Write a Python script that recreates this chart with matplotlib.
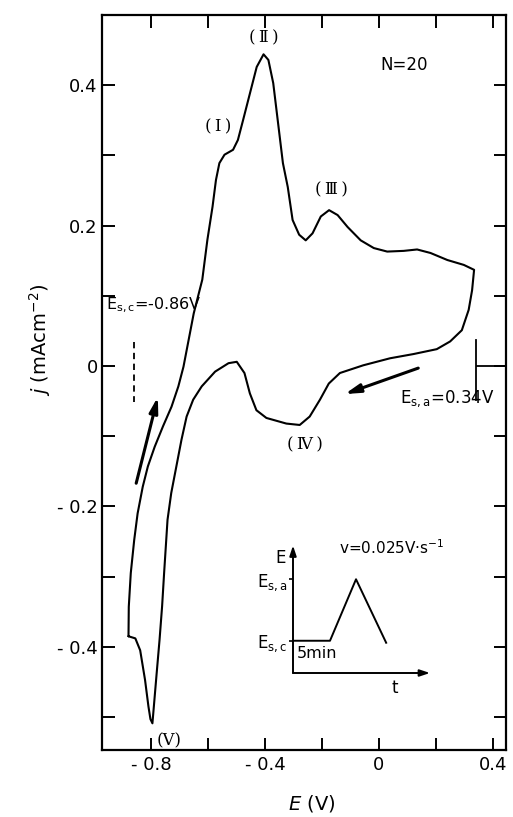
import matplotlib
matplotlib.use("Agg")
import matplotlib.pyplot as plt
from matplotlib.ticker import FixedLocator

# ---- cyclic voltammogram, 20th cycle ----
# anodic sweep, from the holding potential up to the reversal potential
E_anodic = [-0.879, -0.878, -0.871, -0.859, -0.847, -0.829, -0.811, -0.787, -0.758, -0.728,
            -0.704, -0.686, -0.668, -0.650, -0.620, -0.602, -0.584, -0.572, -0.560, -0.542,
            -0.512, -0.495, -0.477, -0.453, -0.429, -0.405, -0.388, -0.371, -0.354, -0.337,
            -0.320, -0.303, -0.280, -0.257, -0.233, -0.204, -0.175, -0.145, -0.110, -0.064,
            -0.018, 0.029, 0.087, 0.134, 0.181, 0.240, 0.298, 0.334]
j_anodic = [-0.385, -0.343, -0.295, -0.248, -0.210, -0.172, -0.143, -0.115, -0.086, -0.058,
            -0.029, -0.001, 0.037, 0.075, 0.123, 0.180, 0.227, 0.265, 0.289, 0.301,
            0.308, 0.322, 0.350, 0.388, 0.426, 0.444, 0.436, 0.403, 0.346, 0.289,
            0.255, 0.208, 0.187, 0.179, 0.189, 0.213, 0.222, 0.215, 0.198, 0.179,
            0.168, 0.163, 0.164, 0.166, 0.161, 0.151, 0.144, 0.137]
# cathodic sweep back to the holding potential
E_cathodic = [0.327, 0.315, 0.291, 0.250, 0.203, 0.121, 0.039, -0.055, -0.137, -0.176,
              -0.207, -0.243, -0.278, -0.325, -0.395, -0.430, -0.453, -0.472, -0.499, -0.528,
              -0.575, -0.622, -0.652, -0.675, -0.693, -0.711, -0.729, -0.742, -0.748, -0.754,
              -0.761, -0.770, -0.780, -0.790, -0.795, -0.802, -0.809, -0.821, -0.838, -0.855,
              -0.879]
j_cathodic = [0.108, 0.080, 0.051, 0.035, 0.024, 0.017, 0.011, 0.001, -0.010, -0.025,
              -0.048, -0.072, -0.084, -0.082, -0.074, -0.063, -0.039, -0.010, 0.006, 0.004,
              -0.008, -0.029, -0.048, -0.072, -0.105, -0.143, -0.181, -0.219, -0.257, -0.295,
              -0.342, -0.390, -0.437, -0.485, -0.509, -0.503, -0.485, -0.447, -0.405, -0.388,
              -0.385]

E_sc = -0.86   # cathodic switching potential (V)
E_sa = 0.34    # anodic switching potential (V)
n_cycles = 20
scan_rate = 0.025

x_major = [-0.8, -0.4, 0.0, 0.4]
x_major_labels = ["- 0.8", "- 0.4", "0", "0.4"]
x_minor = [-0.6, -0.2, 0.2]
y_major = [-0.4, -0.2, 0.0, 0.2, 0.4]
y_major_labels = ["- 0.4", "- 0.2", "0", "0.2", "0.4"]
y_minor = [-0.5, -0.3, -0.1, 0.1, 0.3]

# potential programme of the inset (schematic units)
prog_t = [0.0, 0.27, 0.46, 0.68]
prog_E = [0.258, 0.258, 0.75, 0.242]

plt.rcParams["font.family"] = ["DejaVu Sans"]
plt.rcParams["mathtext.fontset"] = "dejavusans"

W, H = 513, 817
fig = plt.figure(figsize=(W / 100, H / 100), dpi=100)
ax = fig.add_axes([102 / W, 1 - 750 / H, 404 / W, 735 / H])

lw = 1.5
ax.plot(E_anodic + E_cathodic, j_anodic + j_cathodic, color="black", lw=lw,
        solid_joinstyle="round", solid_capstyle="round")

ax.set_xlim(-0.972, 0.446)
ax.set_ylim(-0.547, 0.500)

for s in ax.spines.values():
    s.set_linewidth(1.6)

ax.xaxis.set_major_locator(FixedLocator(x_major))
ax.xaxis.set_minor_locator(FixedLocator(x_minor))
ax.yaxis.set_major_locator(FixedLocator(y_major))
ax.yaxis.set_minor_locator(FixedLocator(y_minor))
ax.set_xticklabels(x_major_labels)
ax.set_yticklabels(y_major_labels)
ax.tick_params(which="both", direction="in", top=True, right=True,
               length=9, width=1.4, labelsize=13)
ax.tick_params(axis="x", which="both", pad=4)
ax.tick_params(axis="y", which="both", pad=3)

# switching-potential markers
ax.plot([E_sc, E_sc], [0.034, -0.051], color="black", lw=1.3, ls=(0, (3.5, 2.5)))
ax.plot([E_sa, E_sa], [0.037, -0.049], color="black", lw=1.3)
ax.hlines(0.0, E_sa, ax.get_xlim()[1], color="black", lw=1.3)

# sweep direction arrows
arrow = dict(arrowstyle="-|>,head_length=0.9,head_width=0.25", color="black", lw=2.2,
             shrinkA=0, shrinkB=0)
ax.annotate("", xy=(-0.776, -0.044), xytext=(-0.852, -0.167), arrowprops=arrow)
ax.annotate("", xy=(-0.120, -0.040), xytext=(0.138, -0.003), arrowprops=arrow)

# peak labels
pk = dict(ha="center", va="center", fontsize=12, family="DejaVu Serif")
ax.text(-0.563, 0.340, "(\u2009Ⅰ\u2009)", **pk)
ax.text(-0.404, 0.467, "(\u2009Ⅱ\u2009)", **pk)
ax.text(-0.168, 0.251, "(\u2009Ⅲ\u2009)", **pk)
ax.text(-0.261, -0.113, "(\u2009Ⅳ\u2009)", **pk)
ax.text(-0.736, -0.534, "(Ⅴ)", **pk)

ax.text(0.087, 0.429, f"N={n_cycles}", ha="center", va="center", fontsize=12)
ax.text(-0.958, 0.087, r"E$_{\mathrm{s,c}}$=" + f"{E_sc:.2f}V", ha="left", va="center",
        fontsize=11.5)
ax.text(0.239, -0.046, r"E$_{\mathrm{s,a}}$=" + f"{E_sa:.2f}V", ha="center", va="center",
        fontsize=12)

# axis titles
fig.text(40 / W, 1 - 340 / H, r"$j$ (mAcm$^{-2}$)", rotation=90, ha="center", va="center",
         fontsize=14)
fig.text(312 / W, 1 - 804 / H, r"$E$ (V)", ha="center", va="center", fontsize=14)

# ---- inset: applied potential programme ----
ins = fig.add_axes([293 / W, 1 - 673 / H, 137 / W, 125 / H])
ins.set_xlim(0, 1)
ins.set_ylim(0, 1)
ins.patch.set_alpha(0)
for s in ins.spines.values():
    s.set_visible(False)
ins.plot(prog_t, prog_E, color="black", lw=1.4)
ins.annotate("", xy=(0, 1.02), xytext=(0, 0), xycoords="axes fraction",
             arrowprops=dict(arrowstyle="-|>,head_length=0.6,head_width=0.2",
                             color="black", lw=1.4, shrinkA=0, shrinkB=0))
ins.annotate("", xy=(1.0, 0), xytext=(0, 0), xycoords="axes fraction",
             arrowprops=dict(arrowstyle="-|>,head_length=0.6,head_width=0.2",
                             color="black", lw=1.4, shrinkA=0, shrinkB=0))
ins.set_xticks([])
ins.set_yticks([prog_E[2], prog_E[0]])
ins.set_yticklabels([r"E$_{\mathrm{s,a}}$", r"E$_{\mathrm{s,c}}$"], fontsize=12)
ins.tick_params(axis="y", direction="out", length=3, width=1.2, pad=1)
ins.text(-0.09, 0.92, "E", ha="center", va="center", fontsize=12)
ins.text(0.74, -0.12, "t", ha="center", va="center", fontsize=12)
ins.text(0.03, 0.16, "5min", ha="left", va="center", fontsize=11.5)
ins.text(0.72, 1.0, f"v={scan_rate:.3f}V·s$^{{-1}}$", ha="center", va="center", fontsize=11)

fig.savefig("out.png", dpi=100)
